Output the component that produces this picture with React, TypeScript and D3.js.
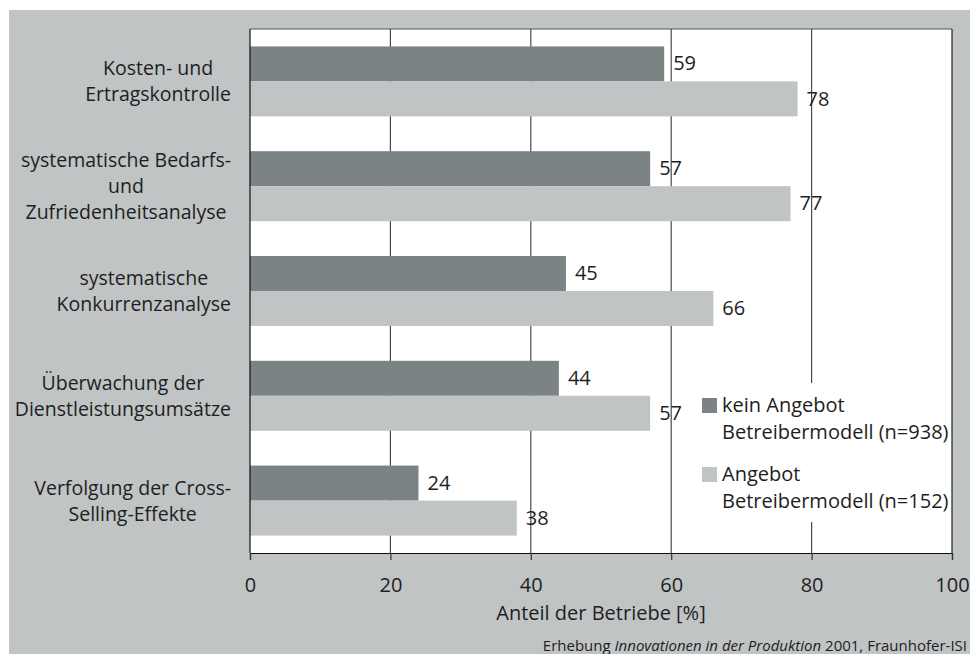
import * as d3 from "d3"
import { useRef, useEffect } from "react"

const categories = [
  ["Kosten- und", "Ertragskontrolle"],
  ["systematische Bedarfs-", "und", "Zufriedenheitsanalyse"],
  ["systematische", "Konkurrenzanalyse"],
  ["Überwachung der", "Dienstleistungsumsätze"],
  ["Verfolgung der Cross-", "Selling-Effekte"],
]
const keinAngebot = [59, 57, 45, 44, 24]
const angebot = [78, 77, 66, 57, 38]
const seriesNames = ["kein Angebot|Betreibermodell (n=938)", "Angebot|Betreibermodell (n=152)"]
const xTicks = [0, 20, 40, 60, 80, 100]

export default function App() {
  const ref = useRef<SVGSVGElement>(null)

  useEffect(() => {
    const width = 970
    const height = 654
    const marginTop = 29
    const marginRight = 18
    const marginBottom = 101
    const marginLeft = 250
    const font = "'Open Sans', sans-serif"
    const textColor = "#1e1e1e"
    const bg = "#c0c4c5"
    const dark = "#7b8385"

    const svg = d3.select(ref.current)
    svg.selectAll("*").remove()
    svg.attr("width", width).attr("height", height)

    svg.append("rect").attr("x", 9).attr("y", 10)
      .attr("width", width - 9).attr("height", height - 10).attr("fill", bg)

    const x = d3.scaleLinear().domain([0, 100]).range([marginLeft, width - marginRight])
    const y = d3.scaleBand<number>()
      .domain(d3.range(categories.length))
      .range([marginTop, height - marginBottom])
      .paddingInner(0.332)
      .paddingOuter(0.166)
    const sub = d3.scaleBand<number>().domain([0, 1]).range([0, y.bandwidth()])

    // plot background
    svg.append("rect").attr("x", x(0)).attr("y", marginTop)
      .attr("width", x(100) - x(0)).attr("height", height - marginBottom - marginTop)
      .attr("fill", "white")

    // grid
    svg.append("g").selectAll("line").data([20, 40, 60, 80]).join("line")
      .attr("x1", d => x(d)).attr("x2", d => x(d))
      .attr("y1", marginTop).attr("y2", height - marginBottom)
      .attr("stroke", "#4a4a4a").attr("stroke-width", 1.2)

    // legend box (covers the gridline)
    const lg = svg.append("g")
    lg.append("rect").attr("x", 698).attr("y", 383).attr("width", 252).attr("height", 139).attr("fill", "white")

    // bars
    const series = [keinAngebot, angebot]
    const colors = [dark, bg]
    series.forEach((vals, s) => {
      svg.append("g").attr("fill", colors[s]).selectAll("rect").data(vals).join("rect")
        .attr("x", x(0))
        .attr("y", (d, i) => y(i)! + sub(s)!)
        .attr("width", d => x(d) - x(0))
        .attr("height", sub.bandwidth())
    })

    // value labels
    series.forEach((vals, s) => {
      svg.append("g").selectAll("text").data(vals).join("text")
        .attr("x", d => x(d) + 9)
        .attr("y", (d, i) => y(i)! + sub(s)! + sub.bandwidth() / 2)
        .attr("dy", "0.33em")
        .attr("font-family", font).attr("font-size", 20).attr("fill", textColor)
        .text(d => d)
    })

    // frame
    svg.append("line").attr("x1", x(0)).attr("x2", x(100)).attr("y1", marginTop).attr("y2", marginTop)
      .attr("stroke", "#555").attr("stroke-width", 1.2)
    svg.append("line").attr("x1", x(100)).attr("x2", x(100)).attr("y1", marginTop).attr("y2", height - marginBottom)
      .attr("stroke", "#222").attr("stroke-width", 1.2)
    svg.append("line").attr("x1", x(0)).attr("x2", x(0)).attr("y1", marginTop).attr("y2", height - marginBottom)
      .attr("stroke", "#111").attr("stroke-width", 1.2)

    // x axis
    const xAxis = svg.append("g")
      .attr("transform", `translate(0,${height - marginBottom})`)
      .call(d3.axisBottom(x).tickValues(xTicks).tickSize(7).tickPadding(18).tickFormat(d3.format("d")))
    xAxis.select(".domain").attr("stroke", "#111").attr("stroke-width", 1.2)
    xAxis.selectAll(".tick line").attr("stroke", "#333").attr("stroke-width", 1.2)
    xAxis.selectAll(".tick text").attr("font-family", font).attr("font-size", 20).attr("fill", textColor)

    svg.append("text").attr("x", (x(0) + x(100)) / 2).attr("y", 620)
      .attr("text-anchor", "middle").attr("font-family", font).attr("font-size", 20).attr("fill", textColor)
      .text("Anteil der Betriebe [%]")

    // caption
    const cap = svg.append("text").attr("x", 967).attr("y", 651).attr("text-anchor", "end")
      .attr("font-family", font).attr("font-size", 15).attr("fill", textColor)
    cap.append("tspan").text("Erhebung ")
    cap.append("tspan").attr("font-style", "italic").text("Innovationen in der Produktion")
    cap.append("tspan").text(" 2001, Fraunhofer-ISI")

    // category labels: centered blocks, right edge at ~232
    const lineH = 26
    categories.forEach((lines, i) => {
      const g = svg.append("g")
      const cy = y(i)! + y.bandwidth() / 2
      const texts = g.selectAll("text").data(lines).join("text")
        .attr("y", (d, j) => cy + (j - (lines.length - 1) / 2) * lineH)
        .attr("dy", "0.36em")
        .attr("text-anchor", "middle")
        .attr("font-family", font).attr("font-size", 19.5).attr("fill", textColor)
        .text(d => d)
      let maxW = 0
      texts.each(function () { maxW = Math.max(maxW, (this as SVGTextElement).getComputedTextLength()) })
      texts.attr("x", 231 - maxW / 2)
    })

    // legend
    seriesNames.forEach((name, s) => {
      const top = 398 + s * 69
      lg.append("rect").attr("x", 702).attr("y", top).attr("width", 15).attr("height", 15).attr("fill", colors[s])
      const t = lg.append("text").attr("font-family", font).attr("font-size", 20).attr("fill", textColor)
      name.split("|").forEach((ln, j) => {
        t.append("tspan").attr("x", 722).attr("y", top + 14 + j * 27).text(ln)
      })
    })
  }, [])

  return <svg ref={ref} style={{ position: "absolute", left: 0, top: 0 }}></svg>
}
